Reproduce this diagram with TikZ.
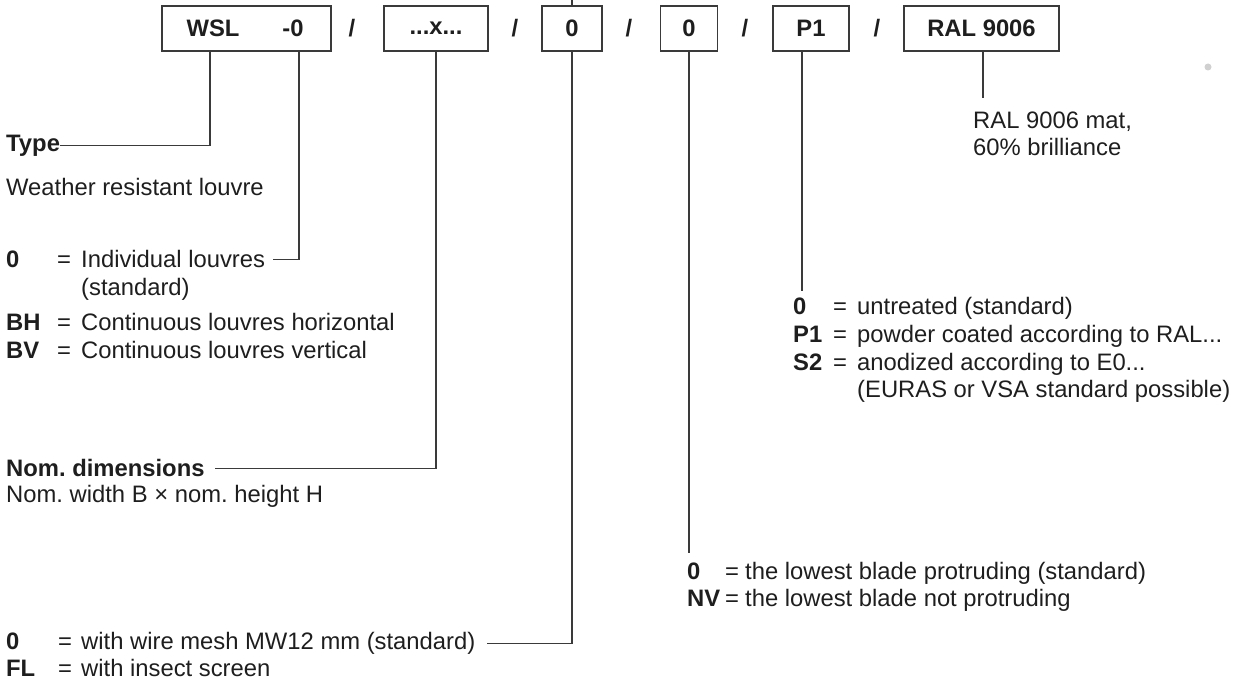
\documentclass[tikz,border=0pt]{standalone}
\usepackage{fontspec}
\setmainfont{Liberation Sans}
\definecolor{ink}{HTML}{1E1E1E}
\definecolor{linec}{HTML}{3A3A3A}
\definecolor{dotc}{HTML}{D0D0D0}
\newcommand{\ent}[4]{\makebox[#1][l]{\bfseries #2}\makebox[#3][l]{=}#4}
\frenchspacing
\begin{document}
\frenchspacing
\begin{tikzpicture}[x=1pt,y=-1pt,
  txt/.style={anchor=mid west, inner sep=0, yshift=-6pt, text=ink, font=\fontsize{23.8}{28}\selectfont},
  btxt/.style={txt, font=\fontsize{23.8}{28}\selectfont\bfseries},
  codebox/.style={draw=linec, line width=1.1pt, minimum height=45pt, inner sep=0, text=ink, font=\fontsize{23.8}{28}\selectfont\bfseries},
  slash/.style={inner sep=0, text=ink, font=\fontsize{23.8}{28}\selectfont\bfseries},
  conn/.style={draw=linec, line width=1.1pt}]
\useasboundingbox (0,0) rectangle (1242,684);
% code boxes
\node[codebox, minimum width=169pt] (b1) at (246.5,28.5) {};
\node[slash] (wsl) at (213,28.5) {WSL};
\node[slash] (dash0) at (293,28.5) {-0};
\node[slash] (s1) at (352,28.5) {/};
\node[codebox, minimum width=104pt] (b2) at (436,28.5) {...x...};
\node[slash] (s2) at (515,28.5) {/};
\node[codebox, minimum width=60pt] (b3) at (572,28.5) {0};
\node[slash] (s3) at (629,28.5) {/};
\node[codebox, minimum width=57pt] (b4) at (689,28.5) {0};
\node[slash] (s4) at (745,28.5) {/};
\node[codebox, minimum width=76pt] (b5) at (811,28.5) {P1};
\node[slash] (s5) at (877,28.5) {/};
\node[codebox, minimum width=155pt] (b6) at (981.5,28.5) {RAL 9006};
\node[circle, fill=dotc, minimum size=7pt, inner sep=0] (dot) at (1208,67) {};
% texts
\node[btxt] (type) at (6,143) {Type};
\node[txt] (weather) at (6,187) {Weather resistant louvre};
\node[txt] (ind) at (6,259) {\ent{51pt}{0}{24pt}{Individual louvres}};
\node[txt] (std1) at (81,287) {(standard)};
\node[txt] (bh) at (6,322) {\ent{51pt}{BH}{24pt}{Continuous louvres horizontal}};
\node[txt] (bv) at (6,350) {\ent{51pt}{BV}{24pt}{Continuous louvres vertical}};
\node[btxt] (nomdim) at (6,468) {Nom. dimensions};
\node[txt] (nomw) at (6,494) {Nom. width B × nom. height H};
\node[txt] (wire) at (6,641) {\ent{52pt}{0}{23pt}{with wire mesh MW12 mm (standard)}};
\node[txt] (fl) at (6,668) {\ent{52pt}{FL}{23pt}{with insect screen}};
\node[txt] (blade) at (687,571) {\ent{38pt}{0}{20pt}{the lowest blade protruding (standard)}};
\node[txt] (nv) at (687,598) {\ent{38pt}{NV}{20pt}{the lowest blade not protruding}};
\node[txt] (untr) at (793,306) {\ent{40pt}{0}{24pt}{untreated (standard)}};
\node[txt] (p1) at (793,334) {\ent{40pt}{P1}{24pt}{powder coated according to RAL...}};
\node[txt] (s2t) at (793,362) {\ent{40pt}{S2}{24pt}{anodized according to E0...}};
\node[txt] (euras) at (857,389) {(EURAS or VSA standard possible)};
\node[txt] (ral) at (973,120) {RAL 9006 mat,};
\node[txt] (bril) at (973,147) {60\% brilliance};
% connectors
\coordinate (topend) at (572,0);
\draw[conn] (b3.north) -- (topend);
\coordinate (x1) at (210,0);
\draw[conn] (b1.south -| x1) |- (type.east);
\coordinate (x2) at (299,0);
\draw[conn] (b1.south -| x2) |- ([xshift=8pt]ind.east);
\draw[conn] (b2.south) |- ([xshift=10pt]nomdim.east);
\draw[conn] (b3.south) |- ([xshift=11pt]wire.east);
\coordinate (e4) at (689,553);
\draw[conn] (b4.south) -- (e4);
\coordinate (e5) at (802,291);
\draw[conn] (b5.south -| e5) -- (e5);
\coordinate (e6) at (983,98);
\draw[conn] (b6.south -| e6) -- (e6);
\end{tikzpicture}
\end{document}
